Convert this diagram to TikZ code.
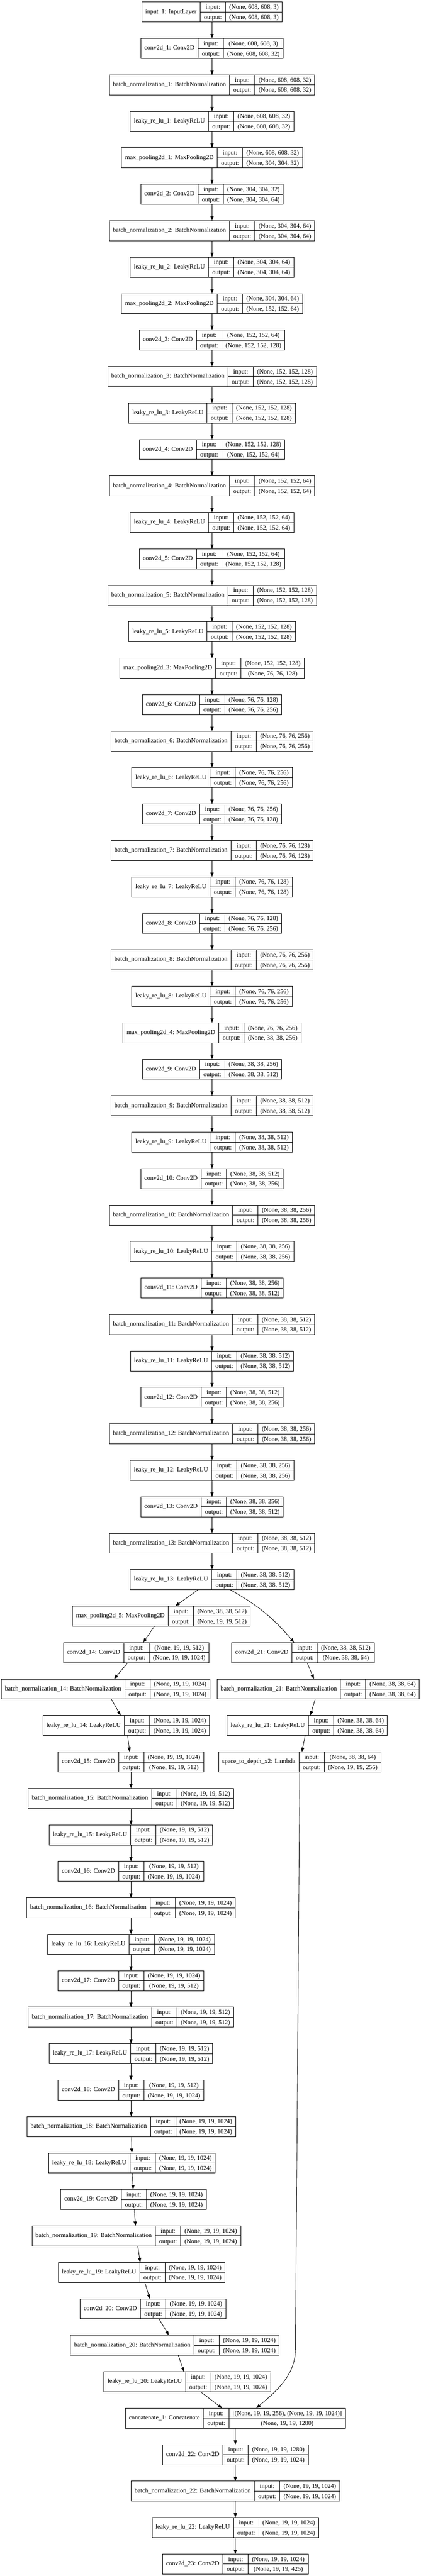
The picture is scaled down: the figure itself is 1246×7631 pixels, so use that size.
\documentclass[tikz,border=0pt]{standalone}
\usepackage{fontspec}
\setmainfont{Liberation Serif}
\usepackage{tikz}
\usetikzlibrary{arrows.meta,positioning}
\setlength{\arrayrulewidth}{1.33pt}
\newcommand{\rowstrut}{\rule[-8pt]{0pt}{29pt}}
\newcommand{\layerrec}[3]{%
  \begin{tabular}{@{\hspace{10.67pt}}c@{\hspace{10.67pt}}|@{}c@{}}
    #1 &
    \begin{tabular}{@{\hspace{10.67pt}}c@{\hspace{10.67pt}}|@{\hspace{10.67pt}}c@{\hspace{10.67pt}}}
      \rowstrut input: & #2 \\ \hline
      \rowstrut output: & #3
    \end{tabular}
  \end{tabular}}

\begin{document}
\begin{tikzpicture}[x=1pt, y=-1pt, ->, >={Triangle[length=13pt,width=9.5pt]}, line width=1.33pt, node distance=108pt]
  \tikzstyle{layer}=[draw=black, fill=white, text=black, inner sep=0pt, outer sep=0pt, font=\fontsize{18.67}{22.4}\selectfont]
  \useasboundingbox (0,0) rectangle (1246,7631);

  \node[layer] (in1) at (628,35.5) {\layerrec{input\_1: InputLayer}{(None, 608, 608, 3)}{(None, 608, 608, 3)}};
  \node[layer] (c1)  [below of=in1] {\layerrec{conv2d\_1: Conv2D}{(None, 608, 608, 3)}{(None, 608, 608, 32)}};
  \node[layer] (bn1) [below of=c1]  {\layerrec{batch\_normalization\_1: BatchNormalization}{(None, 608, 608, 32)}{(None, 608, 608, 32)}};
  \node[layer] (lr1) [below of=bn1] {\layerrec{leaky\_re\_lu\_1: LeakyReLU}{(None, 608, 608, 32)}{(None, 608, 608, 32)}};
  \node[layer] (mp1) [below of=lr1] {\layerrec{max\_pooling2d\_1: MaxPooling2D}{(None, 608, 608, 32)}{(None, 304, 304, 32)}};
  \node[layer] (c2)  [below of=mp1] {\layerrec{conv2d\_2: Conv2D}{(None, 304, 304, 32)}{(None, 304, 304, 64)}};
  \node[layer] (bn2) [below of=c2]  {\layerrec{batch\_normalization\_2: BatchNormalization}{(None, 304, 304, 64)}{(None, 304, 304, 64)}};
  \node[layer] (lr2) [below of=bn2] {\layerrec{leaky\_re\_lu\_2: LeakyReLU}{(None, 304, 304, 64)}{(None, 304, 304, 64)}};
  \node[layer] (mp2) [below of=lr2] {\layerrec{max\_pooling2d\_2: MaxPooling2D}{(None, 304, 304, 64)}{(None, 152, 152, 64)}};
  \node[layer] (c3)  [below of=mp2] {\layerrec{conv2d\_3: Conv2D}{(None, 152, 152, 64)}{(None, 152, 152, 128)}};
  \node[layer] (bn3) [below of=c3]  {\layerrec{batch\_normalization\_3: BatchNormalization}{(None, 152, 152, 128)}{(None, 152, 152, 128)}};
  \node[layer] (lr3) [below of=bn3] {\layerrec{leaky\_re\_lu\_3: LeakyReLU}{(None, 152, 152, 128)}{(None, 152, 152, 128)}};
  \node[layer] (c4)  [below of=lr3] {\layerrec{conv2d\_4: Conv2D}{(None, 152, 152, 128)}{(None, 152, 152, 64)}};
  \node[layer] (bn4) [below of=c4]  {\layerrec{batch\_normalization\_4: BatchNormalization}{(None, 152, 152, 64)}{(None, 152, 152, 64)}};
  \node[layer] (lr4) [below of=bn4] {\layerrec{leaky\_re\_lu\_4: LeakyReLU}{(None, 152, 152, 64)}{(None, 152, 152, 64)}};
  \node[layer] (c5)  [below of=lr4] {\layerrec{conv2d\_5: Conv2D}{(None, 152, 152, 64)}{(None, 152, 152, 128)}};
  \node[layer] (bn5) [below of=c5]  {\layerrec{batch\_normalization\_5: BatchNormalization}{(None, 152, 152, 128)}{(None, 152, 152, 128)}};
  \node[layer] (lr5) [below of=bn5] {\layerrec{leaky\_re\_lu\_5: LeakyReLU}{(None, 152, 152, 128)}{(None, 152, 152, 128)}};
  \node[layer] (mp3) [below of=lr5] {\layerrec{max\_pooling2d\_3: MaxPooling2D}{(None, 152, 152, 128)}{(None, 76, 76, 128)}};
  \node[layer] (c6)  [below of=mp3] {\layerrec{conv2d\_6: Conv2D}{(None, 76, 76, 128)}{(None, 76, 76, 256)}};
  \node[layer] (bn6) [below of=c6]  {\layerrec{batch\_normalization\_6: BatchNormalization}{(None, 76, 76, 256)}{(None, 76, 76, 256)}};
  \node[layer] (lr6) [below of=bn6] {\layerrec{leaky\_re\_lu\_6: LeakyReLU}{(None, 76, 76, 256)}{(None, 76, 76, 256)}};
  \node[layer] (c7)  [below of=lr6] {\layerrec{conv2d\_7: Conv2D}{(None, 76, 76, 256)}{(None, 76, 76, 128)}};
  \node[layer] (bn7) [below of=c7]  {\layerrec{batch\_normalization\_7: BatchNormalization}{(None, 76, 76, 128)}{(None, 76, 76, 128)}};
  \node[layer] (lr7) [below of=bn7] {\layerrec{leaky\_re\_lu\_7: LeakyReLU}{(None, 76, 76, 128)}{(None, 76, 76, 128)}};
  \node[layer] (c8)  [below of=lr7] {\layerrec{conv2d\_8: Conv2D}{(None, 76, 76, 128)}{(None, 76, 76, 256)}};
  \node[layer] (bn8) [below of=c8]  {\layerrec{batch\_normalization\_8: BatchNormalization}{(None, 76, 76, 256)}{(None, 76, 76, 256)}};
  \node[layer] (lr8) [below of=bn8] {\layerrec{leaky\_re\_lu\_8: LeakyReLU}{(None, 76, 76, 256)}{(None, 76, 76, 256)}};
  \node[layer] (mp4) [below of=lr8] {\layerrec{max\_pooling2d\_4: MaxPooling2D}{(None, 76, 76, 256)}{(None, 38, 38, 256)}};
  \node[layer] (c9)  [below of=mp4] {\layerrec{conv2d\_9: Conv2D}{(None, 38, 38, 256)}{(None, 38, 38, 512)}};
  \node[layer] (bn9) [below of=c9]  {\layerrec{batch\_normalization\_9: BatchNormalization}{(None, 38, 38, 512)}{(None, 38, 38, 512)}};
  \node[layer] (lr9) [below of=bn9] {\layerrec{leaky\_re\_lu\_9: LeakyReLU}{(None, 38, 38, 512)}{(None, 38, 38, 512)}};
  \node[layer] (c10)  [below of=lr9]  {\layerrec{conv2d\_10: Conv2D}{(None, 38, 38, 512)}{(None, 38, 38, 256)}};
  \node[layer] (bn10) [below of=c10]  {\layerrec{batch\_normalization\_10: BatchNormalization}{(None, 38, 38, 256)}{(None, 38, 38, 256)}};
  \node[layer] (lr10) [below of=bn10] {\layerrec{leaky\_re\_lu\_10: LeakyReLU}{(None, 38, 38, 256)}{(None, 38, 38, 256)}};
  \node[layer] (c11)  [below of=lr10] {\layerrec{conv2d\_11: Conv2D}{(None, 38, 38, 256)}{(None, 38, 38, 512)}};
  \node[layer] (bn11) [below of=c11]  {\layerrec{batch\_normalization\_11: BatchNormalization}{(None, 38, 38, 512)}{(None, 38, 38, 512)}};
  \node[layer] (lr11) [below of=bn11] {\layerrec{leaky\_re\_lu\_11: LeakyReLU}{(None, 38, 38, 512)}{(None, 38, 38, 512)}};
  \node[layer] (c12)  [below of=lr11] {\layerrec{conv2d\_12: Conv2D}{(None, 38, 38, 512)}{(None, 38, 38, 256)}};
  \node[layer] (bn12) [below of=c12]  {\layerrec{batch\_normalization\_12: BatchNormalization}{(None, 38, 38, 256)}{(None, 38, 38, 256)}};
  \node[layer] (lr12) [below of=bn12] {\layerrec{leaky\_re\_lu\_12: LeakyReLU}{(None, 38, 38, 256)}{(None, 38, 38, 256)}};
  \node[layer] (c13)  [below of=lr12] {\layerrec{conv2d\_13: Conv2D}{(None, 38, 38, 256)}{(None, 38, 38, 512)}};
  \node[layer] (bn13) [below of=c13]  {\layerrec{batch\_normalization\_13: BatchNormalization}{(None, 38, 38, 512)}{(None, 38, 38, 512)}};
  \node[layer] (lr13) [below of=bn13] {\layerrec{leaky\_re\_lu\_13: LeakyReLU}{(None, 38, 38, 512)}{(None, 38, 38, 512)}};

  % left branch
  \node[layer] (mp5)  [below of=lr13, xshift=-150pt] {\layerrec{max\_pooling2d\_5: MaxPooling2D}{(None, 38, 38, 512)}{(None, 19, 19, 512)}};
  \node[layer] (c14)  [below of=mp5, xshift=-74.5pt] {\layerrec{conv2d\_14: Conv2D}{(None, 19, 19, 512)}{(None, 19, 19, 1024)}};
  \node[layer] (bn14) [below of=c14, xshift=-90.5pt] {\layerrec{batch\_normalization\_14: BatchNormalization}{(None, 19, 19, 1024)}{(None, 19, 19, 1024)}};
  \node[layer] (lr14) [below of=bn14, xshift=61pt]   {\layerrec{leaky\_re\_lu\_14: LeakyReLU}{(None, 19, 19, 1024)}{(None, 19, 19, 1024)}};
  \node[layer] (c15)  [below of=lr14, xshift=14pt]   {\layerrec{conv2d\_15: Conv2D}{(None, 19, 19, 1024)}{(None, 19, 19, 512)}};
  \node[layer] (bn15) [below of=c15]  {\layerrec{batch\_normalization\_15: BatchNormalization}{(None, 19, 19, 512)}{(None, 19, 19, 512)}};
  \node[layer] (lr15) [below of=bn15] {\layerrec{leaky\_re\_lu\_15: LeakyReLU}{(None, 19, 19, 512)}{(None, 19, 19, 512)}};
  \node[layer] (c16)  [below of=lr15] {\layerrec{conv2d\_16: Conv2D}{(None, 19, 19, 512)}{(None, 19, 19, 1024)}};
  \node[layer] (bn16) [below of=c16]  {\layerrec{batch\_normalization\_16: BatchNormalization}{(None, 19, 19, 1024)}{(None, 19, 19, 1024)}};
  \node[layer] (lr16) [below of=bn16] {\layerrec{leaky\_re\_lu\_16: LeakyReLU}{(None, 19, 19, 1024)}{(None, 19, 19, 1024)}};
  \node[layer] (c17)  [below of=lr16] {\layerrec{conv2d\_17: Conv2D}{(None, 19, 19, 1024)}{(None, 19, 19, 512)}};
  \node[layer] (bn17) [below of=c17]  {\layerrec{batch\_normalization\_17: BatchNormalization}{(None, 19, 19, 512)}{(None, 19, 19, 512)}};
  \node[layer] (lr17) [below of=bn17] {\layerrec{leaky\_re\_lu\_17: LeakyReLU}{(None, 19, 19, 512)}{(None, 19, 19, 512)}};
  \node[layer] (c18)  [below of=lr17] {\layerrec{conv2d\_18: Conv2D}{(None, 19, 19, 512)}{(None, 19, 19, 1024)}};
  \node[layer] (bn18) [below of=c18, xshift=1pt]   {\layerrec{batch\_normalization\_18: BatchNormalization}{(None, 19, 19, 1024)}{(None, 19, 19, 1024)}};
  \node[layer] (lr18) [below of=bn18, xshift=2pt]  {\layerrec{leaky\_re\_lu\_18: LeakyReLU}{(None, 19, 19, 1024)}{(None, 19, 19, 1024)}};
  \node[layer] (c19)  [below of=lr18, xshift=4.6pt] {\layerrec{conv2d\_19: Conv2D}{(None, 19, 19, 1024)}{(None, 19, 19, 1024)}};
  \node[layer] (bn19) [below of=c19, xshift=8pt]   {\layerrec{batch\_normalization\_19: BatchNormalization}{(None, 19, 19, 1024)}{(None, 19, 19, 1024)}};
  \node[layer] (lr19) [below of=bn19, xshift=16pt] {\layerrec{leaky\_re\_lu\_19: LeakyReLU}{(None, 19, 19, 1024)}{(None, 19, 19, 1024)}};
  \node[layer] (c20)  [below of=lr19, xshift=33.4pt] {\layerrec{conv2d\_20: Conv2D}{(None, 19, 19, 1024)}{(None, 19, 19, 1024)}};
  \node[layer] (bn20) [below of=c20, xshift=65pt]  {\layerrec{batch\_normalization\_20: BatchNormalization}{(None, 19, 19, 1024)}{(None, 19, 19, 1024)}};
  \node[layer] (lr20) [below of=bn20, xshift=37pt] {\layerrec{leaky\_re\_lu\_20: LeakyReLU}{(None, 19, 19, 1024)}{(None, 19, 19, 1024)}};

  % right branch
  \node[layer] (c21)  [below of=lr13, node distance=216pt, xshift=269pt] {\layerrec{conv2d\_21: Conv2D}{(None, 38, 38, 512)}{(None, 38, 38, 64)}};
  \node[layer] (bn21) [below of=c21, xshift=45.5pt]  {\layerrec{batch\_normalization\_21: BatchNormalization}{(None, 38, 38, 64)}{(None, 38, 38, 64)}};
  \node[layer] (lr21) [below of=bn21, xshift=-32.5pt] {\layerrec{leaky\_re\_lu\_21: LeakyReLU}{(None, 38, 38, 64)}{(None, 38, 38, 64)}};
  \node[layer] (s2d)  [below of=lr21, xshift=-22pt]   {\layerrec{space\_to\_depth\_x2: Lambda}{(None, 38, 38, 64)}{(None, 19, 19, 256)}};

  % merge and head
  \node[layer] (cat)  [below of=lr20, xshift=142pt] {\layerrec{concatenate\_1: Concatenate}{[(None, 19, 19, 256), (None, 19, 19, 1024)]}{(None, 19, 19, 1280)}};
  \node[layer] (c22)  [below of=cat]  {\layerrec{conv2d\_22: Conv2D}{(None, 19, 19, 1280)}{(None, 19, 19, 1024)}};
  \node[layer] (bn22) [below of=c22]  {\layerrec{batch\_normalization\_22: BatchNormalization}{(None, 19, 19, 1024)}{(None, 19, 19, 1024)}};
  \node[layer] (lr22) [below of=bn22] {\layerrec{leaky\_re\_lu\_22: LeakyReLU}{(None, 19, 19, 1024)}{(None, 19, 19, 1024)}};
  \node[layer] (c23)  [below of=lr22] {\layerrec{conv2d\_23: Conv2D}{(None, 19, 19, 1024)}{(None, 19, 19, 425)}};

  \coordinate (bend) at (875,6960);
  \coordinate (catin) at ([xshift=62pt]cat.north);

  \path (in1) edge (c1)  (c1) edge (bn1)  (bn1) edge (lr1)  (lr1) edge (mp1)
        (mp1) edge (c2)  (c2) edge (bn2)  (bn2) edge (lr2)  (lr2) edge (mp2)
        (mp2) edge (c3)  (c3) edge (bn3)  (bn3) edge (lr3)
        (lr3) edge (c4)  (c4) edge (bn4)  (bn4) edge (lr4)
        (lr4) edge (c5)  (c5) edge (bn5)  (bn5) edge (lr5)  (lr5) edge (mp3)
        (mp3) edge (c6)  (c6) edge (bn6)  (bn6) edge (lr6)
        (lr6) edge (c7)  (c7) edge (bn7)  (bn7) edge (lr7)
        (lr7) edge (c8)  (c8) edge (bn8)  (bn8) edge (lr8)  (lr8) edge (mp4)
        (mp4) edge (c9)  (c9) edge (bn9)  (bn9) edge (lr9)
        (lr9) edge (c10)  (c10) edge (bn10)  (bn10) edge (lr10)
        (lr10) edge (c11)  (c11) edge (bn11)  (bn11) edge (lr11)
        (lr11) edge (c12)  (c12) edge (bn12)  (bn12) edge (lr12)
        (lr12) edge (c13)  (c13) edge (bn13)  (bn13) edge (lr13)
        (lr13) edge (mp5)
               edge [bend left=10] (c21)
        (mp5) edge (c14)  (c14) edge (bn14)  (bn14) edge (lr14)
        (lr14) edge (c15)  (c15) edge (bn15)  (bn15) edge (lr15)
        (lr15) edge (c16)  (c16) edge (bn16)  (bn16) edge (lr16)
        (lr16) edge (c17)  (c17) edge (bn17)  (bn17) edge (lr17)
        (lr17) edge (c18)  (c18) edge (bn18)  (bn18) edge (lr18)
        (lr18) edge (c19)  (c19) edge (bn19)  (bn19) edge (lr19)
        (lr19) edge (c20)  (c20) edge (bn20)  (bn20) edge (lr20)
        (lr20) edge (cat)
        (c21) edge (bn21)  (bn21) edge (lr21)  (lr21) edge (s2d)
        (cat) edge (c22)  (c22) edge (bn22)  (bn22) edge (lr22)  (lr22) edge (c23);

  \draw (s2d) -- (bend) .. controls (875,7040) and (810,7090) .. (catin);
\end{tikzpicture}
\end{document}
